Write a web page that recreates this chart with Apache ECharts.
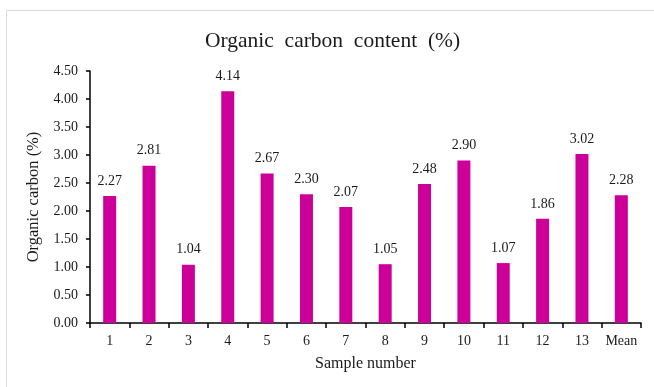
<!DOCTYPE html>
<html>
<head>
<meta charset="utf-8">
<script src="https://cdn.jsdelivr.net/npm/echarts@6/dist/echarts.min.js"></script>
<style>
html,body{margin:0;padding:0;background:#fff;}
#c{width:654px;height:387px;}
</style>
</head>
<body>
<div id="c"></div>
<script>
var categories = ['1','2','3','4','5','6','7','8','9','10','11','12','13','Mean'];
var values = [2.27, 2.81, 1.04, 4.14, 2.67, 2.30, 2.07, 1.05, 2.48, 2.90, 1.07, 1.86, 3.02, 2.28];
var yTicks = {min: 0, max: 4.5, interval: 0.5};

var font = '"Liberation Serif", "Times New Roman", serif';
var chart = echarts.init(document.getElementById('c'), null, {renderer: 'canvas'});
chart.setOption({
  animation: false,
  backgroundColor: '#fff',
  graphic: [{
    type: 'rect',
    shape: {x: 6.5, y: 10.5, width: 700, height: 400},
    style: {fill: 'none', stroke: '#d9d9d9', lineWidth: 1},
    silent: true
  }],
  title: {
    text: 'Organic  carbon  content  (%)',
    left: 200,
    top: 25,
    textStyle: {fontFamily: font, fontSize: 21.5, fontWeight: 'normal', color: '#1a1a1a'}
  },
  grid: {left: 90, right: 13, top: 71, bottom: 64, containLabel: false},
  xAxis: {
    type: 'category',
    data: categories,
    name: 'Sample number',
    nameLocation: 'middle',
    nameGap: 33,
    nameTextStyle: {fontFamily: font, fontSize: 16, color: '#1a1a1a'},
    axisLine: {lineStyle: {color: '#000', width: 1.5}},
    axisTick: {show: true, length: 5, inside: false, lineStyle: {color: '#000', width: 1.5}},
    axisLabel: {fontFamily: font, fontSize: 14, color: '#1a1a1a', margin: 11, interval: 0}
  },
  yAxis: {
    type: 'value',
    min: yTicks.min, max: yTicks.max, interval: yTicks.interval,
    name: 'Organic carbon (%)',
    nameLocation: 'middle',
    nameGap: 42,
    nameTextStyle: {fontFamily: font, fontSize: 16.5, color: '#1a1a1a'},
    axisLine: {show: true, lineStyle: {color: '#000', width: 1.5}},
    axisTick: {show: true, length: 4, lineStyle: {color: '#000', width: 1.5}},
    splitLine: {show: false},
    axisLabel: {fontFamily: font, fontSize: 14, color: '#1a1a1a', margin: 12,
      formatter: function (v) { return v.toFixed(2); }}
  },
  series: [{
    type: 'bar',
    data: values,
    barWidth: 13,
    itemStyle: {color: '#CC0099'},
    label: {
      show: true, position: 'top', distance: 8,
      fontFamily: font, fontSize: 14, color: '#1a1a1a',
      formatter: function (p) { return p.value.toFixed(2); }
    }
  }]
});
</script>
</body>
</html>
